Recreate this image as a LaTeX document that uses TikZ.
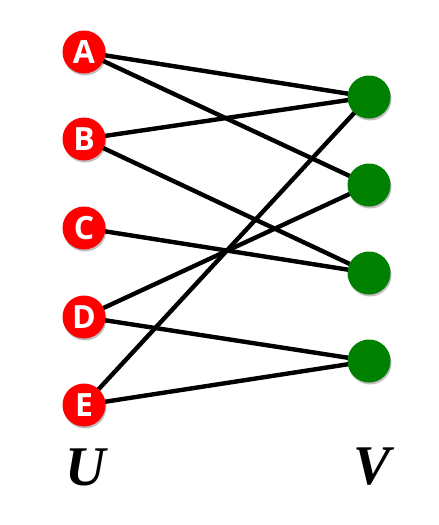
\documentclass[tikz,border=0pt]{standalone}
\usepackage{fontspec}
\setmainfont{Liberation Serif}
\newfontfamily\nodefont[BoldFont={* Bold}]{Open Sans}
\usetikzlibrary{shadows}

\begin{document}
\begin{tikzpicture}[x=1pt,y=-1pt,
  unode/.style={circle,fill=red,minimum size=43pt,inner sep=0pt,text=white,
    font=\nodefont\bfseries\fontsize{32}{32}\selectfont,
    drop shadow={shadow xshift=1pt,shadow yshift=-2pt,opacity=0.25,fill=black}},
  vnode/.style={circle,fill=green!50!black,minimum size=43pt,inner sep=0pt,
    drop shadow={shadow xshift=1pt,shadow yshift=-2pt,opacity=0.25,fill=black}},
  edge/.style={line width=4.4pt},
  setlabel/.style={font=\fontsize{56}{56}\selectfont\bfseries\itshape}]
\useasboundingbox (0,0) rectangle (439,525);
% edges are drawn first, so the nodes sit on top
\path (84,52) coordinate (pa) (84,139) coordinate (pb) (84,228) coordinate (pc)
  (84,317) coordinate (pd) (84,405) coordinate (pe);
\path (369,97) coordinate (p1) (369,185) coordinate (p2) (369,273) coordinate (p3)
  (369,361) coordinate (p4);
\draw[edge] (pa) -- (p1);
\draw[edge] (pa) -- (p2);
\draw[edge] (pb) -- (p1);
\draw[edge] (pb) -- (p3);
\draw[edge] (pc) -- (p3);
\draw[edge] (pd) -- (p2);
\draw[edge] (pd) -- (p4);
\draw[edge] (pe) -- (p1);
\draw[edge] (pe) -- (p4);
% left side
\node[unode] (a) at (pa) {A};
\node[unode] (b) at (pb) {B};
\node[unode] (c) at (pc) {C};
\node[unode] (d) at (pd) {D};
\node[unode] (e) at (pe) {E};
% right side
\node[vnode] (v1) at (p1) {};
\node[vnode] (v2) at (p2) {};
\node[vnode] (v3) at (p3) {};
\node[vnode] (v4) at (p4) {};
\node[setlabel] (u) at (86,467) {U};
\node[setlabel] (v) at (372,467) {V};
\end{tikzpicture}
\end{document}
